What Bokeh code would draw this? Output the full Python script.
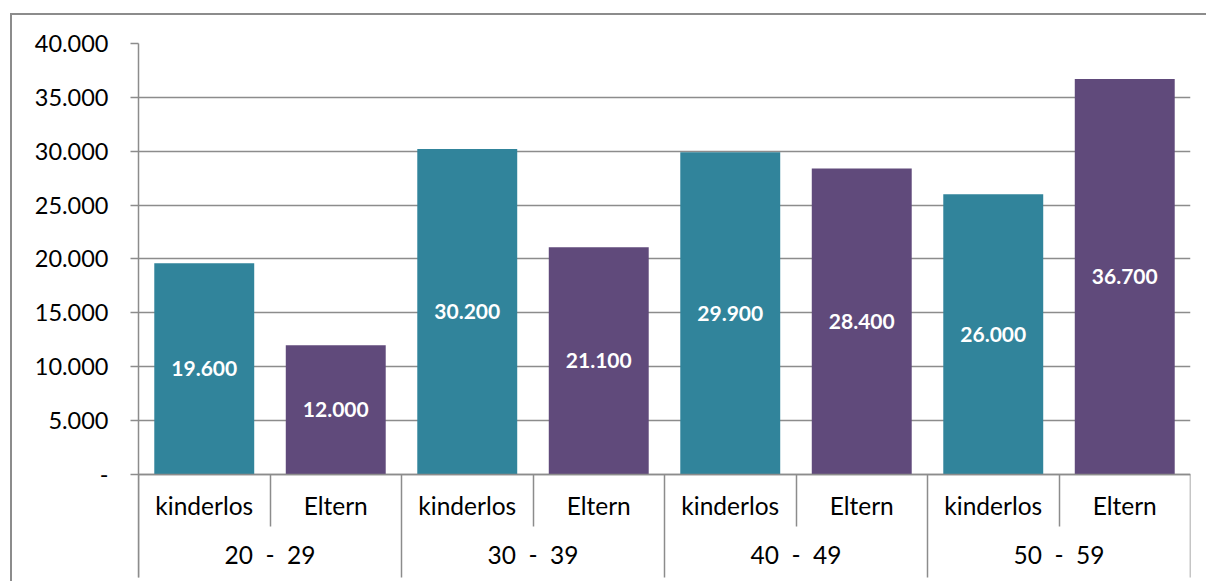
from bokeh.plotting import figure
from bokeh.models import (FactorRange, Range1d, LinearAxis, CategoricalAxis, FixedTicker,
                          CustomJSTickFormatter, ColumnDataSource)
from bokeh.core.properties import value
from bokeh.embed import file_html
from bokeh.resources import INLINE

# ---- data ----
age_groups = ["20\u00a0 -\u00a0 29", "30\u00a0 -\u00a0 39", "40\u00a0 -\u00a0 49", "50\u00a0 -\u00a0 59"]
subgroups = ["kinderlos", "Eltern"]
values = [19600, 12000, 30200, 21100, 29900, 28400, 26000, 36700]
y_ticks = [0, 5000, 10000, 15000, 20000, 25000, 30000, 35000, 40000]

TEAL = "#31849B"
PURPLE = "#604A7B"
GRID = "#8c8c8c"
FONT = "Lato"

factors = [(g, s) for g in age_groups for s in subgroups]
colors = [TEAL if s == "kinderlos" else PURPLE for (_, s) in factors]
labels = [f"{v:,}".replace(",", ".") for v in values]
mids = [v / 2 for v in values]

src = ColumnDataSource(dict(x=factors, top=values, color=colors, label=labels, mid=mids))

x_range = FactorRange(*factors, factor_padding=0, group_padding=0, subgroup_padding=0,
                      range_padding=0)

# the frame also holds the two-level category label strip below zero
Y_MAX = 40000
Y_MIN = -9560
p = figure(x_range=x_range, y_range=Range1d(Y_MIN, Y_MAX), width=1196, height=568,
           output_backend="svg", toolbar_location=None,
           min_border_left=126, min_border_top=28, min_border_right=18, min_border_bottom=6,
           x_axis_location=None, y_axis_location=None)
p.margin = (13, 0, 0, 10)
p.styles = {"border-top": f"2px solid {GRID}", "border-left": f"2px solid {GRID}"}
p.outline_line_color = None
p.background_fill_color = "white"
p.border_fill_color = "white"

n = len(factors)
# category boundaries in the factor range's synthetic coordinates
sub_bounds = [i for i in range(1, n) if i % len(subgroups) != 0]
grp_bounds = [i for i in range(0, n + 1) if i % len(subgroups) == 0]

sep1 = LinearAxis(ticker=FixedTicker(ticks=[], minor_ticks=sub_bounds), fixed_location=0,
                  major_tick_out=0, major_tick_in=0, minor_tick_out=52, minor_tick_in=0,
                  minor_tick_line_color=GRID, minor_tick_line_width=1.5,
                  major_label_text_font_size="0px", major_label_standoff=0,
                  axis_line_color=GRID, axis_line_width=1.5)
sep2 = LinearAxis(ticker=FixedTicker(ticks=[], minor_ticks=grp_bounds), fixed_location=0,
                  major_tick_out=0, major_tick_in=0, minor_tick_out=104, minor_tick_in=0,
                  minor_tick_line_color=GRID, minor_tick_line_width=1.5,
                  major_label_text_font_size="0px", major_label_standoff=0,
                  axis_line_color=None)
p.add_layout(sep1, "below")
p.add_layout(sep2, "below")

xax = CategoricalAxis(fixed_location=0, major_tick_out=0, major_tick_in=0, axis_line_color=None,
                      major_label_standoff=17, separator_line_color=None,
                      major_label_text_font=FONT, major_label_text_font_size="24.5px",
                      major_label_text_color="black", major_label_text_line_height=1.35,
                      group_text_font=FONT, group_text_font_size="24.5px",
                      group_text_color="black", group_text_font_style="normal")
p.add_layout(xax, "below")

yax = LinearAxis(ticker=FixedTicker(ticks=y_ticks),
                 formatter=CustomJSTickFormatter(code="""
                     if (tick == 0) return "-";
                     return Math.round(tick).toString().replace(/\\B(?=(\\d{3})+(?!\\d))/g, ".");
                 """),
                 major_tick_out=8, major_tick_in=0, minor_tick_out=0, minor_tick_in=0,
                 major_tick_line_color=GRID, major_tick_line_width=1.5,
                 axis_line_color=GRID, axis_line_width=1.5,
                 major_label_standoff=22, major_label_text_font=FONT,
                 major_label_text_font_size="23.5px", major_label_text_color="black")
p.add_layout(yax, "left")

p.xgrid.visible = False
p.ygrid.ticker = FixedTicker(ticks=y_ticks)
p.ygrid.grid_line_color = GRID
p.ygrid.grid_line_width = 1.5

p.vbar(x="x", top="top", width=0.76, color="color", source=src, line_color=None)
p.text(x="x", y="mid", text="label", source=src, text_align="center", text_baseline="middle",
       text_color="white", text_font=value(FONT), text_font_style="bold",
       text_font_size="21px")

open("out.html", "w").write(file_html(p, INLINE))
